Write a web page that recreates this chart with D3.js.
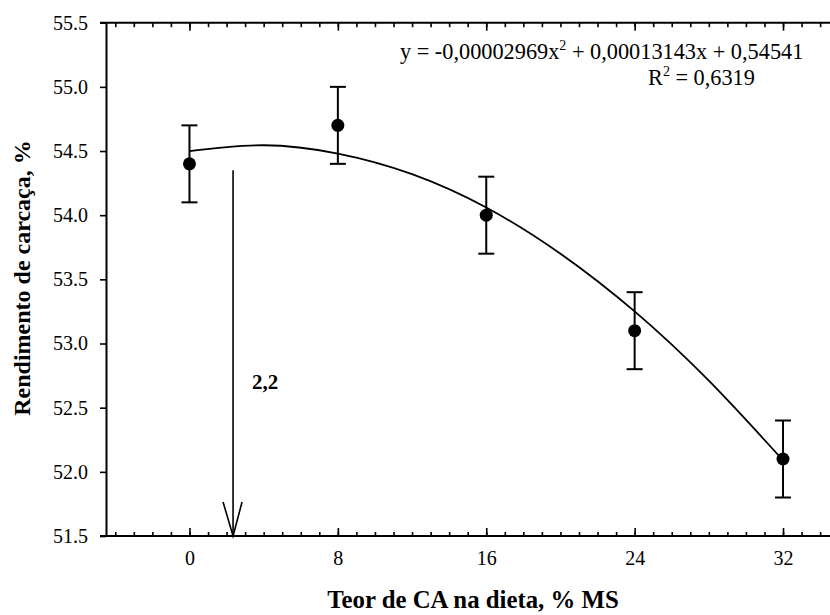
<!DOCTYPE html>
<html>
<head>
<meta charset="utf-8">
<script src="https://cdn.jsdelivr.net/npm/d3@7"></script>
<style>
  html, body { margin: 0; padding: 0; background: #fff; }
  svg { display: block; }
</style>
</head>
<body>
<svg id="chart" width="830" height="615"></svg>
<script>
// ---- data ----
const teor = [0, 8, 16, 24, 32];                    // % MS
const rendimento = [54.4, 54.7, 54.0, 53.1, 52.1];  // %
const erro = [0.3, 0.3, 0.3, 0.3, 0.3];
// fitted curve
const curveX = [0, 4, 8, 12, 16, 20, 24, 28, 32];
const curveY = [54.50, 54.545, 54.48, 54.32, 54.06, 53.70, 53.25, 52.71, 52.09];
const xMajorTicks = [0, 8, 16, 24, 32];
const yTicks = [51.5, 52.0, 52.5, 53.0, 53.5, 54.0, 54.5, 55.0, 55.5];
const arrowX = 2.35, arrowTop = 54.35;
const arrowLabel = "2,2";
const xTitle = "Teor de CA na dieta, % MS";
const yTitle = "Rendimento de carcaça, %";

// ---- layout ----
const FONT = '"Liberation Serif"';
const svg = d3.select("#chart");
const L = 106, R = 829.4, T = 22.7, B = 536;
const x = d3.scaleLinear().domain([-4.5, 34.5]).range([L, R]);
const y = d3.scaleLinear().domain([51.5, 55.5]).range([B, T]);
const xMinor = d3.range(-4, 35);

// bottom axis: minor ticks
const gBm = svg.append("g").attr("transform", `translate(0,${B})`)
  .call(d3.axisBottom(x).tickValues(xMinor).tickSize(-4).tickSizeOuter(0).tickFormat(""));
// bottom axis: major ticks with labels
const gB = svg.append("g").attr("transform", `translate(0,${B})`)
  .call(d3.axisBottom(x).tickValues(xMajorTicks).tickSize(-8).tickSizeOuter(0).tickPadding(15).tickFormat(d3.format("d")));
gB.select(".domain").remove();
// top axis
const gTm = svg.append("g").attr("transform", `translate(0,${T})`)
  .call(d3.axisTop(x).tickValues(xMinor).tickSize(-4.5).tickSizeOuter(0).tickFormat(""));
const gT = svg.append("g").attr("transform", `translate(0,${T})`)
  .call(d3.axisTop(x).tickValues(xMajorTicks).tickSize(-8).tickSizeOuter(0).tickFormat(""));
gT.select(".domain").remove();
// left axis
const gL = svg.append("g").attr("transform", `translate(${L},0)`)
  .call(d3.axisLeft(y).tickValues(yTicks).tickSize(6).tickSizeOuter(0).tickPadding(12).tickFormat(d3.format(".1f")));

svg.selectAll("g").attr("font-family", FONT);
[gBm, gTm].forEach(g => g.select(".domain").attr("d", `M${L - 6},0H830`));
svg.selectAll(".domain").attr("stroke", "#000").attr("stroke-width", 2);
svg.selectAll(".tick line").attr("stroke", "#000").attr("stroke-width", 1.6);
svg.selectAll(".tick text").attr("font-size", 20);

// fitted curve
const line = d3.line().x((d, i) => x(curveX[i])).y(d => y(d)).curve(d3.curveNatural);
svg.append("path").datum(curveY).attr("d", line)
  .attr("fill", "none").attr("stroke", "#000").attr("stroke-width", 1.8);

// error bars
const eb = svg.append("g").attr("stroke", "#000").attr("stroke-width", 2);
teor.forEach((t, i) => {
  const cx = x(t), y0 = y(rendimento[i] - erro[i]), y1 = y(rendimento[i] + erro[i]);
  eb.append("line").attr("x1", cx).attr("x2", cx).attr("y1", y0).attr("y2", y1);
  eb.append("line").attr("x1", cx - 8).attr("x2", cx + 8).attr("y1", y0).attr("y2", y0);
  eb.append("line").attr("x1", cx - 8).attr("x2", cx + 8).attr("y1", y1).attr("y2", y1);
});
// points
svg.append("g").selectAll("circle").data(teor).join("circle")
  .attr("cx", d => x(d)).attr("cy", (d, i) => y(rendimento[i])).attr("r", 6.5).attr("fill", "#000");

// arrow
const ax = x(arrowX);
const ag = svg.append("g").attr("stroke", "#000").attr("stroke-width", 1.6).attr("fill", "none");
ag.append("line").attr("x1", ax).attr("x2", ax).attr("y1", y(arrowTop)).attr("y2", B);
ag.append("path").attr("d", `M${ax - 10},${B - 34}L${ax},${B}L${ax + 9},${B - 34}`);
svg.append("text").attr("x", ax + 19).attr("y", 389).attr("font-size", 21).attr("font-weight", "bold").text(arrowLabel);

// equation
const eq = svg.append("text").attr("x", 400).attr("y", 59).attr("font-size", 22.3);
eq.append("tspan").text("y = -0,00002969x");
eq.append("tspan").attr("font-size", 14).attr("dy", -9).text("2");
eq.append("tspan").attr("dy", 9).text(" + 0,00013143x + 0,54541");
const r2 = svg.append("text").attr("x", 648).attr("y", 85).attr("font-size", 22.3);
r2.append("tspan").text("R");
r2.append("tspan").attr("font-size", 14).attr("dy", -9).text("2");
r2.append("tspan").attr("dy", 9).text(" = 0,6319");

// axis titles
svg.append("text").attr("x", 473).attr("y", 608).attr("text-anchor", "middle")
  .attr("font-size", 24.8).attr("font-weight", "bold").text(xTitle);
svg.append("text").attr("transform", "translate(30,278) rotate(-90)").attr("text-anchor", "middle")
  .attr("font-size", 24).attr("font-weight", "bold").text(yTitle);

svg.selectAll("text, tspan").attr("font-family", FONT)
  .style("font-family", FONT, "important").style("fill", "#000");
</script>
</body>
</html>
